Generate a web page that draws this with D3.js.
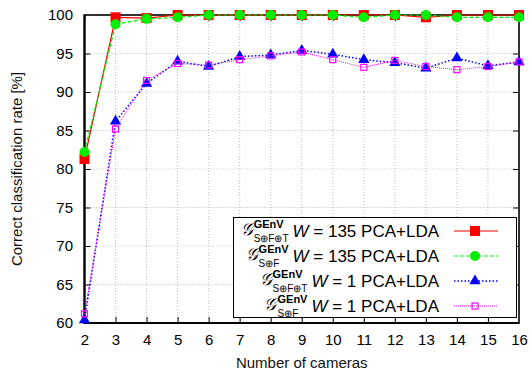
<!DOCTYPE html>
<html><head><meta charset="utf-8">
<script src="https://cdn.jsdelivr.net/npm/d3@7"></script>
<style>
body{margin:0;background:#fff;}
svg{display:block;}
text{font-family:"Liberation Sans",Arial,Helvetica,sans-serif;}
</style></head>
<body>
<svg id="c" width="532" height="370"></svg>
<script>
const cameras = [2,3,4,5,6,7,8,9,10,11,12,13,14,15,16];
const sftW135 = [81.3,99.7,99.6,100,100,100,100,100,100,100,100,99.7,100,100,100];
const sfW135  = [82.2,98.8,99.5,99.7,100,100,100,100,100,99.7,100,100,99.7,99.7,99.7];
const sftW1   = [60.4,86.2,91.1,94.0,93.3,94.6,94.8,95.4,94.9,94.2,93.8,93.1,94.4,93.4,93.9];
const sfW1    = [61.2,85.2,91.5,93.7,93.5,94.2,94.7,95.2,94.2,93.2,94.1,93.3,92.9,93.3,93.9];
const yTicks = [60,65,70,75,80,85,90,95,100];
const legendSub = ["S⊕F⊕T","S⊕F","S⊕F⊕T","S⊕F"];
const legendText = [["135","PCA+LDA"],["135","PCA+LDA"],["1","PCA+LDA"],["1","PCA+LDA"]];

const svg = d3.select("#c");
const L=84.5, R=519, T=15, B=323;
const x = d3.scaleLinear().domain([2,16]).range([L,R]);
const y = d3.scaleLinear().domain([60,100]).range([B,T]);

// grid
const g = svg.append("g");
g.selectAll(".gx").data(cameras.slice(1,-1)).enter().append("line")
 .attr("x1",d=>x(d)).attr("x2",d=>x(d)).attr("y1",T).attr("y2",B)
 .attr("stroke","#bbb").attr("stroke-width",1).attr("stroke-dasharray","1,2");
g.selectAll(".gy").data(yTicks.slice(1,-1)).enter().append("line")
 .attr("x1",L).attr("x2",R).attr("y1",d=>y(d)).attr("y2",d=>y(d))
 .attr("stroke","#bbb").attr("stroke-width",1).attr("stroke-dasharray","1,2");

// axes
const xa = svg.append("g").attr("transform",`translate(0,${B})`)
 .call(d3.axisBottom(x).tickValues(cameras).tickFormat(d3.format("d")).tickSizeInner(-6).tickSizeOuter(0).tickPadding(11));
const ya = svg.append("g").attr("transform",`translate(${L},0)`)
 .call(d3.axisLeft(y).tickValues(yTicks).tickSizeInner(-6).tickSizeOuter(0).tickPadding(11.5));
const xt = svg.append("g").attr("transform",`translate(0,${T})`)
 .call(d3.axisTop(x).tickValues(cameras).tickFormat("").tickSizeInner(-6).tickSizeOuter(0));
const yr = svg.append("g").attr("transform",`translate(${R},0)`)
 .call(d3.axisRight(y).tickValues(yTicks).tickFormat("").tickSizeInner(-6).tickSizeOuter(0));
[xa,ya,xt,yr].forEach(a=>{a.select(".domain").remove(); a.selectAll("line").attr("stroke","#000");
  a.selectAll("text").attr("font-size",15).attr("fill","#000").attr("font-family","Liberation Sans, Arial, sans-serif");});

// frame
svg.append("rect").attr("x",L).attr("y",T).attr("width",R-L).attr("height",B-T)
 .attr("fill","none").attr("stroke","#333").attr("stroke-width",2);
svg.append("path").attr("d",`M${L},${T}V${B}H${R}`).attr("fill","none").attr("stroke","#000").attr("stroke-width",2);

// axis titles
svg.append("text").attr("x",(L+R)/2).attr("y",368).attr("text-anchor","middle").attr("font-size",15).attr("fill","#111").text("Number of cameras");
svg.append("text").attr("transform",`translate(22,${(T+B)/2}) rotate(-90)`).attr("text-anchor","middle").attr("font-size",15).attr("fill","#111").text("Correct classification rate [%]");

const series = [
 {v:sftW135,color:"#ff0000",dash:null,w:1.2,mk:"rect"},
 {v:sfW135,color:"#00ee00",dash:"4,2",w:1.2,mk:"circle"},
 {v:sftW1,color:"#0000ff",dash:"1.5,2",w:1.5,mk:"tri"},
 {v:sfW1,color:"#ff00ff",dash:"1,1",w:1,mk:"osq"}
];
const line = d3.line().x((d,i)=>x(cameras[i])).y(d=>y(d));
function marker(sel, s){
  if(s.mk==="rect") sel.append("rect").attr("x",-5).attr("y",-5).attr("width",10).attr("height",10).attr("fill",s.color);
  else if(s.mk==="circle") sel.append("circle").attr("r",5).attr("fill",s.color);
  else if(s.mk==="tri") sel.append("path").attr("d",d3.symbol(d3.symbolTriangle,55)()).attr("fill",s.color);
  else sel.append("rect").attr("x",-3).attr("y",-3).attr("width",6).attr("height",6).attr("fill","none").attr("stroke",s.color).attr("stroke-width",1.2);
}
const plot = svg.append("g");
series.forEach(s=>{
  plot.append("path").attr("d",line(s.v)).attr("fill","none").attr("stroke",s.color)
   .attr("stroke-width",s.w).attr("stroke-dasharray",s.dash);
  s.v.forEach((v,i)=>{ marker(plot.append("g").attr("transform",`translate(${x(cameras[i])},${y(v)})`), s); });
});

// legend
const lg = svg.append("g");
lg.append("rect").attr("x",233.5).attr("y",217.5).attr("width",283).attr("height",100)
 .attr("fill","#fff").attr("stroke","#000").attr("stroke-width",1);
const rowY = [231,256,281,306];
const textRight = 439;
series.forEach((s,i)=>{
  const yy = rowY[i];
  lg.append("line").attr("x1",454).attr("x2",498).attr("y1",yy).attr("y2",yy)
   .attr("stroke",s.color).attr("stroke-width",s.w).attr("stroke-dasharray",s.dash);
  marker(lg.append("g").attr("transform",`translate(475,${yy})`), s);
  const t = lg.append("text").attr("x",textRight).attr("y",yy+6).attr("text-anchor","end").attr("font-size",17).attr("fill","#000");
  t.append("tspan").attr("font-style","italic").text("W");
  t.append("tspan").text(" = "+legendText[i][0]+" "+legendText[i][1]);
  const wStart = textRight - t.node().getComputedTextLength();
  const sub = lg.append("text").attr("y",yy+10.5).attr("font-size",10).attr("font-family","DejaVu Serif, Liberation Serif, serif").attr("fill","#000").text(legendSub[i]);
  const subW = sub.node().getComputedTextLength();
  const sup = lg.append("text").attr("y",yy-3).attr("font-size",11).attr("font-weight","bold").attr("font-family","Liberation Serif, DejaVu Serif, serif").attr("fill","#000").text("GEnV");
  const supW = sup.node().getComputedTextLength();
  const stackX = wStart - 4 - Math.max(subW,supW);
  sub.attr("x",stackX); sup.attr("x",stackX);
  lg.append("text").attr("x",stackX-1).attr("y",yy+4).attr("text-anchor","end").attr("font-size",17)
   .attr("font-style","italic").attr("font-family","Liberation Serif, DejaVu Serif, serif").attr("fill","#000").text("𝒢");
});
</script>
</body></html>
